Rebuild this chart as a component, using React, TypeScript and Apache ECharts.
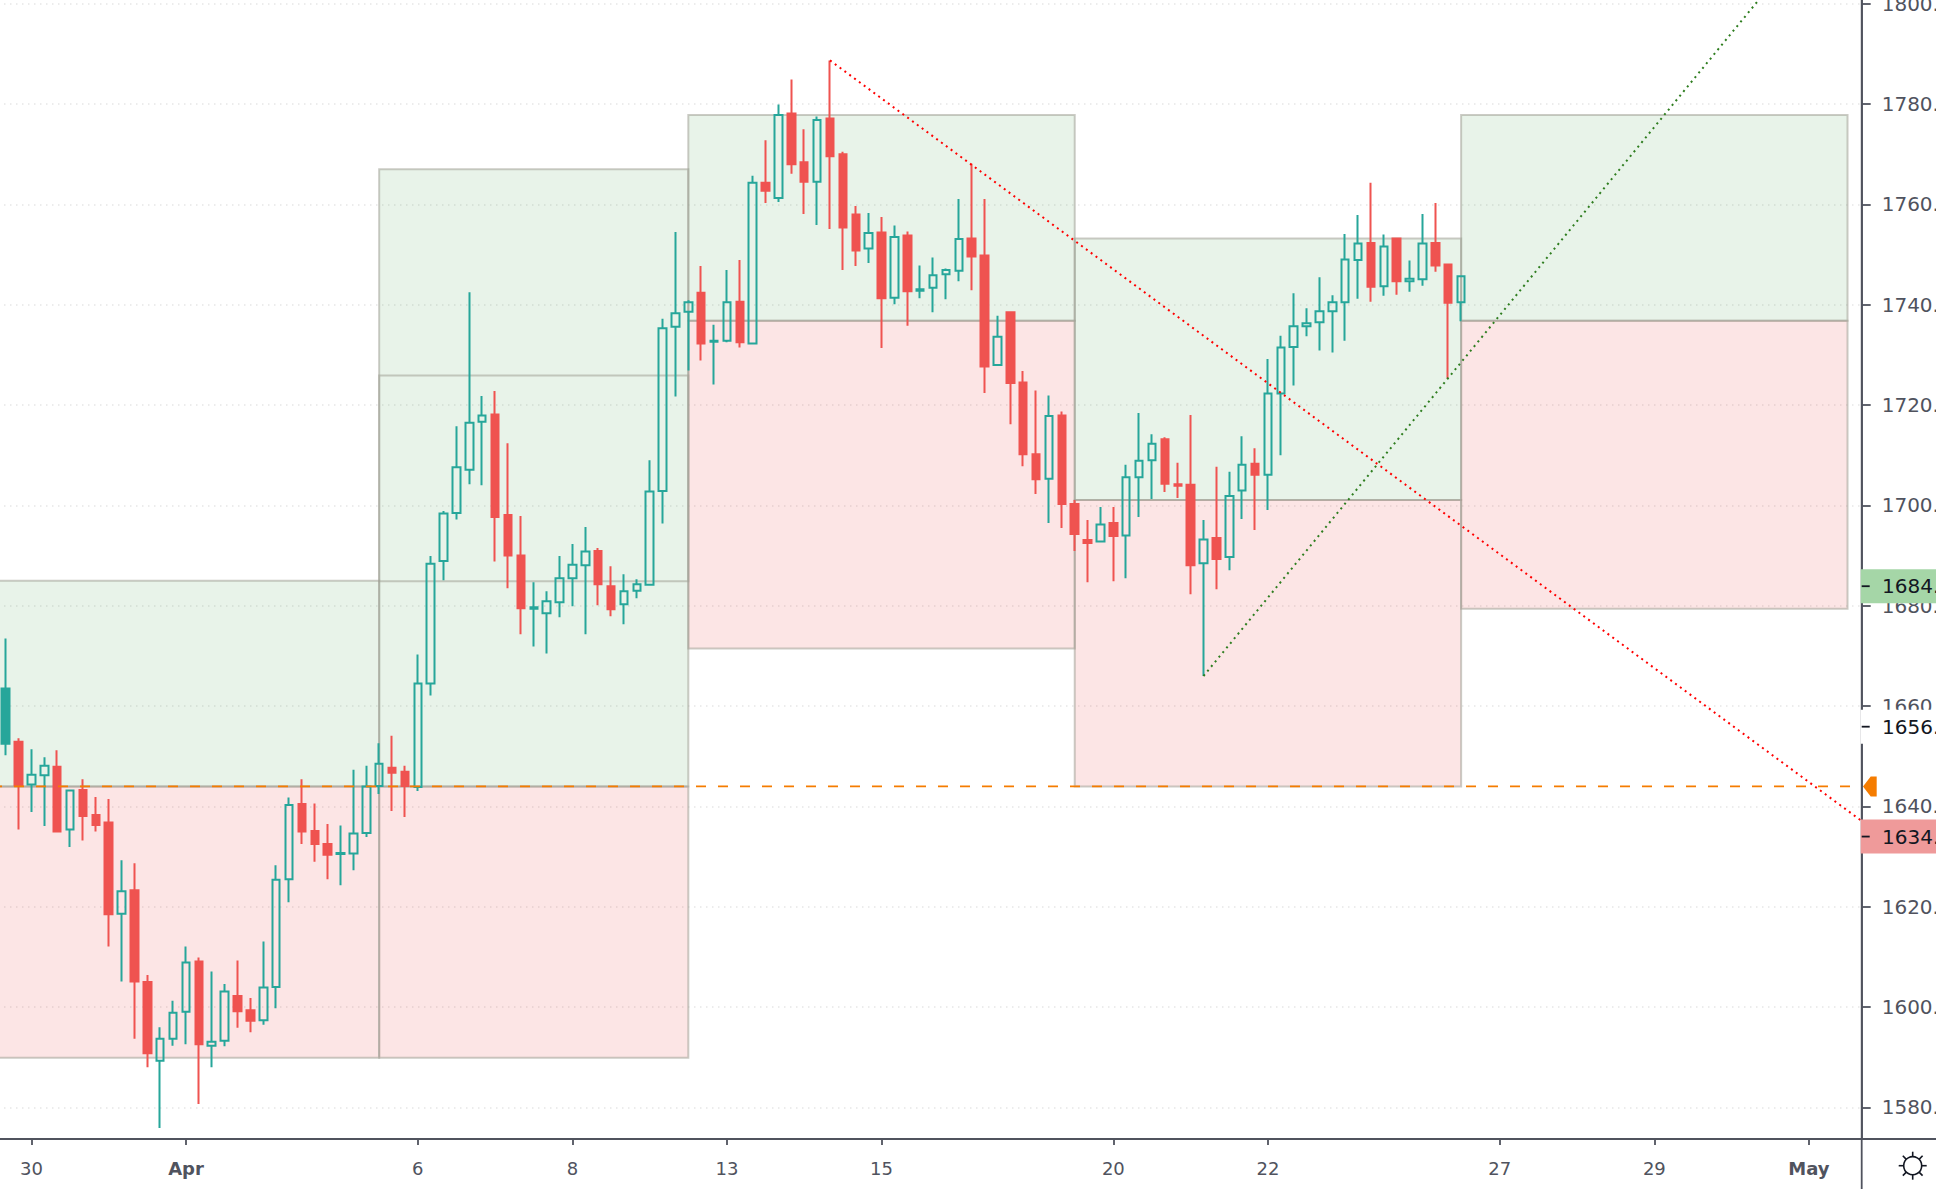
import React, { useEffect, useRef } from "react";
import * as echarts from "echarts";

const opens = [1652.5,1652.9,1644.4,1646.2,1647.9,1635.4,1643.3,1638.3,1636.8,1618.6,1623.3,1605.0,1589.3,1593.7,1599.1,1609.1,1592.3,1593.3,1602.2,1599.4,1597.4,1604.0,1625.5,1640.5,1635.1,1632.5,1630.5,1630.6,1634.7,1644.1,1647.7,1646.9,1643.9,1664.5,1688.9,1698.5,1707.1,1716.7,1718.1,1698.1,1690.0,1679.4,1678.5,1680.7,1685.5,1688.1,1690.9,1683.9,1680.3,1683.0,1684.2,1702.9,1735.6,1738.6,1742.4,1732.6,1732.8,1740.6,1732.3,1764.3,1761.3,1778.1,1768.4,1764.5,1777.1,1770.0,1758.0,1751.2,1754.4,1741.4,1753.8,1742.8,1743.4,1746.1,1746.8,1753.2,1749.8,1728.0,1738.5,1724.5,1710.2,1705.3,1717.9,1700.3,1693.1,1692.8,1696.5,1694.0,1705.6,1709.0,1713.2,1704.2,1704.1,1688.5,1693.5,1689.7,1703.0,1708.3,1706.1,1722.3,1731.6,1735.7,1736.5,1738.7,1740.5,1748.9,1752.3,1743.7,1753.2,1744.7,1745.1,1752.3,1748.0,1740.5];
const closes = [1663.5,1644.2,1646.3,1648.1,1635.0,1643.2,1638.1,1636.3,1618.5,1623.1,1605.1,1590.8,1593.7,1598.9,1608.9,1592.6,1593.1,1603.1,1599.2,1597.3,1603.9,1625.4,1640.3,1635.0,1632.5,1630.4,1630.7,1634.6,1644.0,1648.5,1646.7,1644.1,1664.5,1688.4,1698.4,1707.6,1716.5,1717.9,1697.7,1690.0,1679.5,1679.7,1680.9,1685.5,1688.2,1690.8,1684.3,1679.3,1682.9,1684.3,1702.8,1735.3,1738.3,1740.5,1732.3,1732.8,1740.5,1732.5,1764.3,1762.7,1777.8,1768.0,1764.5,1776.8,1769.6,1755.4,1750.8,1754.3,1741.3,1753.5,1742.7,1743.1,1745.9,1746.9,1753.1,1749.6,1727.7,1733.6,1724.4,1710.2,1705.2,1717.8,1700.3,1694.3,1692.5,1696.2,1693.9,1705.6,1708.9,1712.3,1704.3,1703.9,1688.1,1693.2,1689.3,1701.9,1708.1,1706.1,1722.3,1731.5,1735.7,1736.3,1738.7,1740.5,1749.0,1752.2,1743.6,1751.6,1744.7,1745.2,1752.2,1747.8,1740.4,1745.7];
const lows = [1650.2,1635.4,1638.9,1636.1,1635.0,1631.9,1633.2,1635.0,1612.1,1605.1,1593.7,1588.0,1575.9,1592.3,1592.6,1580.7,1588.0,1592.2,1595.9,1595.0,1596.5,1599.8,1620.9,1632.5,1629.0,1625.5,1624.3,1627.3,1633.9,1642.5,1639.1,1637.9,1643.1,1662.1,1685.1,1697.2,1704.2,1704.0,1688.8,1683.5,1674.3,1671.9,1670.5,1677.7,1679.9,1674.3,1680.1,1677.9,1676.3,1681.5,1684.2,1696.4,1721.7,1726.9,1728.9,1724.1,1732.5,1731.5,1732.2,1760.3,1760.5,1766.1,1758.1,1755.9,1755.1,1746.9,1747.7,1748.3,1731.4,1740.1,1735.8,1741.3,1738.5,1741.1,1744.7,1742.9,1722.4,1727.8,1716.2,1707.8,1702.3,1696.5,1695.5,1690.9,1684.7,1692.8,1684.9,1685.5,1697.7,1701.3,1702.7,1701.5,1682.3,1666.0,1683.3,1687.1,1697.3,1695.1,1699.1,1710.0,1723.9,1733.7,1730.9,1730.5,1732.8,1741.2,1740.6,1741.8,1742.0,1742.6,1743.8,1746.6,1725.3,1736.7];
const highs = [1673.5,1653.6,1651.4,1649.8,1651.2,1643.4,1645.4,1641.9,1641.5,1629.3,1628.7,1606.4,1596.0,1601.3,1612.1,1609.9,1607.1,1604.6,1609.3,1601.8,1613.1,1628.3,1641.8,1645.4,1640.6,1636.5,1636.2,1647.3,1648.1,1652.6,1654.1,1648.1,1670.3,1689.9,1698.9,1715.8,1742.5,1721.8,1722.8,1712.4,1697.9,1684.7,1682.9,1689.9,1692.3,1695.7,1691.5,1687.9,1686.3,1685.3,1709.0,1737.2,1754.5,1740.9,1747.7,1736.0,1746.9,1748.9,1765.7,1772.8,1779.9,1784.9,1775.0,1777.5,1788.7,1770.5,1759.7,1758.3,1757.5,1755.8,1754.6,1747.8,1749.4,1747.2,1761.1,1768.1,1761.1,1737.8,1738.6,1726.8,1722.9,1721.9,1718.7,1701.1,1697.1,1699.7,1699.7,1708.1,1718.4,1714.2,1713.6,1708.5,1718.0,1697.1,1707.7,1706.7,1713.8,1711.4,1729.2,1733.8,1742.3,1739.3,1745.5,1741.9,1754.1,1757.9,1764.3,1754.0,1753.2,1748.8,1758.1,1760.3,1748.2,1745.7];

const xTickBars = [2, 14, 32, 44, 56, 68, 86, 98, 116, 128, 140];
const xTickLabels = ["30", "Apr", "6", "8", "13", "15", "20", "22", "27", "29", "May"];
const boldLabels = ["Apr", "May"];
const yTicks = [1580, 1600, 1620, 1640, 1660, 1680, 1700, 1720, 1740, 1760, 1780, 1800];

const zoneStart = [-1, 29, 53, 83, 113];
const zoneEnd = [29, 53, 83, 113, 143];
const zoneTop = [1685.0, 1767.0, 1777.8, 1753.2, 1777.8];
const zoneMid = [1644.0, 1644.0, 1736.8, 1701.1, 1736.8];
const zoneBottom = [1589.9, 1589.9, 1671.5, 1644.0, 1679.4];
const innerZoneBar = [29, 53];
const innerZonePrices = [1725.9, 1684.9];

const fallLine = [[64, 1788.7], [144.1, 1637.1]];
const riseLine = [[93, 1666.0], [136.1, 1800.74]];
const orangeLevel = 1644;
const priceTags = ["1684.00", "1656.00", "1634.00"];
const priceTagValues = [1683.9, 1655.9, 1634.0];

const UP = "#26a69a";
const DOWN = "#ef5350";
const AXIS = "#50535e";
const INK = "#131722";
const FONT = "'DejaVu Sans', sans-serif";
const TAG_FILL = ["#a5d6a7", "#ffffff", "#ef9a9a"];
const BORDER = "rgba(160,160,150,0.55)";

const AXIS_X = 1861.7;
const AXIS_Y = 1139;
const GRID_LEFT = -2;

function zoneAreas() {
  const green = { color: "rgba(67,160,71,0.12)", borderColor: BORDER, borderWidth: 2 };
  const pink = { color: "rgba(229,57,53,0.13)", borderColor: BORDER, borderWidth: 2 };
  const out: any[] = [];
  zoneStart.forEach((s, i) => {
    out.push([{ xAxis: s, yAxis: zoneTop[i], itemStyle: green }, { xAxis: zoneEnd[i], yAxis: zoneMid[i] }]);
    out.push([{ xAxis: s, yAxis: zoneMid[i], itemStyle: pink }, { xAxis: zoneEnd[i], yAxis: zoneBottom[i] }]);
  });
  out.push([
    { xAxis: innerZoneBar[0], yAxis: innerZonePrices[0], itemStyle: { color: "rgba(0,0,0,0)", borderColor: BORDER, borderWidth: 2 } },
    { xAxis: innerZoneBar[1], yAxis: innerZonePrices[1] },
  ]);
  return out;
}

function overlay(chart: any) {
  const py = (p: number) => chart.convertToPixel({ yAxisIndex: 0 }, p);
  const els: any[] = [];
  els.push({ type: "line", z: 90, shape: { x1: 0, y1: AXIS_Y, x2: 1936, y2: AXIS_Y }, style: { stroke: AXIS, lineWidth: 1.8 } });
  els.push({ type: "line", z: 90, shape: { x1: AXIS_X, y1: 0, x2: AXIS_X, y2: 1189 }, style: { stroke: AXIS, lineWidth: 1.8 } });
  priceTags.forEach((t, i) => {
    const y = py(priceTagValues[i]);
    const h = 34;
    els.push({ type: "rect", z: 100, shape: { x: AXIS_X - 1, y: y - h / 2, width: 1936 - AXIS_X + 1, height: h }, style: { fill: TAG_FILL[i] } });
    els.push({ type: "line", z: 101, shape: { x1: AXIS_X, y1: y, x2: AXIS_X + 8, y2: y }, style: { stroke: INK, lineWidth: 1.8 } });
    els.push({ type: "text", z: 101, x: 1882, y, style: { text: t, fill: INK, font: `20px ${FONT}`, verticalAlign: "middle", textAlign: "left" } });
  });
  const oy = py(orangeLevel);
  els.push({
    type: "polygon", z: 101,
    shape: { points: [[1863, oy], [1870.7, oy - 10], [1876.7, oy - 10], [1876.7, oy + 10], [1870.7, oy + 10]] },
    style: { fill: "#f57c00" },
  });
  const cx = 1912.7, cy = 1165.7;
  els.push({ type: "circle", z: 101, shape: { cx, cy, r: 9 }, style: { fill: "none", stroke: INK, lineWidth: 1.6 } });
  [0, 45, 90, 135, 180, 225, 270, 315].forEach((a) => {
    const c = Math.cos((a * Math.PI) / 180), s = Math.sin((a * Math.PI) / 180);
    els.push({ type: "line", z: 101, shape: { x1: cx + 9 * c, y1: cy + 9 * s, x2: cx + 14 * c, y2: cy + 14 * s }, style: { stroke: INK, lineWidth: 1.6 } });
  });
  return els;
}

export default function App() {
  const ref = useRef<HTMLDivElement>(null);
  useEffect(() => {
    const chart = echarts.init(ref.current!, undefined, { renderer: "svg" });
    const candleData = opens.map((o, i) => {
      const value = [i, o, closes[i], lows[i], highs[i]];
      return i === 0 ? { value, itemStyle: { color: UP } } : { value };
    });
    chart.setOption({
      animation: false,
      backgroundColor: "#ffffff",
      grid: { left: GRID_LEFT, top: 0, width: AXIS_X - GRID_LEFT, height: AXIS_Y, containLabel: false, outerBoundsMode: "none" },
      xAxis: {
        type: "value",
        min: -0.595,
        max: 144.1,
        containShape: false,
        splitLine: { show: false },
        axisLine: { show: true, onZero: false, lineStyle: { color: AXIS, width: 1.8 } },
        axisTick: { show: true, length: 6, customValues: xTickBars, lineStyle: { color: AXIS, width: 1.8 } },
        axisLabel: {
          customValues: xTickBars,
          margin: 20,
          color: AXIS,
          fontFamily: FONT,
          fontSize: 18,
          formatter: (v: number) => {
            const t = xTickLabels[xTickBars.indexOf(v)] ?? "";
            return boldLabels.includes(t) ? `{b|${t}}` : t;
          },
          rich: { b: { fontWeight: "bold", fontFamily: FONT, fontSize: 18, color: AXIS } },
        },
      },
      yAxis: {
        type: "value",
        position: "right",
        min: 1573.72,
        max: 1800.74,
        containShape: false,
        splitLine: { show: true, lineStyle: { color: "#e6e6e6", width: 1.5, type: [1.5, 4.5] } },
        axisLine: { show: true, onZero: false, lineStyle: { color: AXIS, width: 1.8 } },
        axisTick: { show: true, length: 9, customValues: yTicks, lineStyle: { color: AXIS, width: 1.8 } },
        axisLabel: {
          customValues: yTicks,
          margin: 20,
          color: AXIS,
          fontFamily: FONT,
          fontSize: 20,
          formatter: (v: number) => v.toFixed(2),
        },
      },
      series: [
        {
          type: "candlestick",
          barWidth: 8,
          z: 2,
          itemStyle: {
            color: "rgba(0,0,0,0)",
            color0: DOWN,
            borderColor: UP,
            borderColor0: DOWN,
            borderColorDoji: UP,
            borderWidth: 2,
          },
          silent: true,
          data: candleData,
          markArea: { silent: true, data: zoneAreas() },
        },
        {
          type: "line", z: 3, silent: true, showSymbol: false, symbol: "none",
          data: [[-0.44, orangeLevel], [144.1, orangeLevel]],
          lineStyle: { color: "#f57c00", width: 1.8, type: [10, 12], dashOffset: 8 },
        },
        {
          type: "line", z: 4, silent: true, showSymbol: false, symbol: "none",
          data: fallLine,
          lineStyle: { color: "#ff0000", width: 2, type: [2, 4] },
        },
        {
          type: "line", z: 4, silent: true, showSymbol: false, symbol: "none",
          data: riseLine,
          lineStyle: { color: "#2e7d1f", width: 2, type: [2, 4] },
        },
      ],
    });
    chart.setOption({ graphic: { elements: overlay(chart) } });
    return () => chart.dispose();
  }, []);
  return <div ref={ref} style={{ position: "fixed", left: 0, top: 0, width: 1936, height: 1189 }} />;
}
